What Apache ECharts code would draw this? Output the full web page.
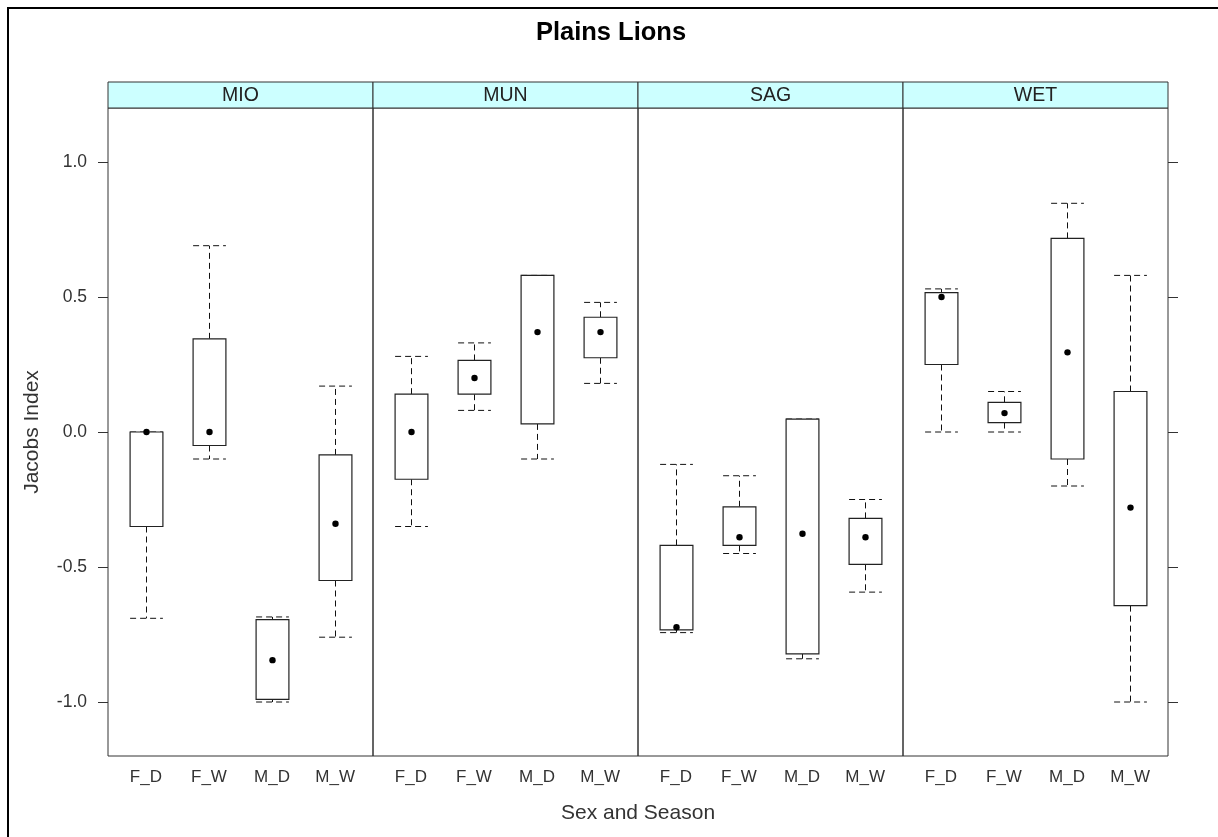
<!DOCTYPE html>
<html><head><meta charset="utf-8">
<script src="https://cdn.jsdelivr.net/npm/echarts@6/dist/echarts.min.js"></script>
<style>html,body{margin:0;padding:0;background:#fff}#c{width:1218px;height:837px}</style>
</head><body><div id="c"></div>
<script>
// ---- data ----
const panels = ['MIO', 'MUN', 'SAG', 'WET'];
const categories = ['F_D', 'F_W', 'M_D', 'M_W'];
const yTicks = [-1.0, -0.5, 0.0, 0.5, 1.0];
// per category: [lower whisker, Q1, median, Q3, upper whisker]
const MIO = [[-0.69, -0.35, 0.00, 0.00, 0.00], [-0.10, -0.05, 0.00, 0.345, 0.69], [-1.00, -0.99, -0.845, -0.695, -0.685], [-0.76, -0.55, -0.34, -0.085, 0.17]];
const MUN = [[-0.35, -0.175, 0.00, 0.14, 0.28], [0.08, 0.14, 0.20, 0.265, 0.33], [-0.10, 0.03, 0.37, 0.58, 0.58], [0.18, 0.275, 0.37, 0.425, 0.48]];
const SAG = [[-0.743, -0.733, -0.723, -0.42, -0.12], [-0.45, -0.42, -0.39, -0.277, -0.162], [-0.84, -0.822, -0.377, 0.048, 0.048], [-0.593, -0.49, -0.39, -0.32, -0.25]];
const WET = [[0.00, 0.25, 0.50, 0.516, 0.53], [0.00, 0.035, 0.07, 0.11, 0.15], [-0.20, -0.10, 0.295, 0.717, 0.847], [-1.00, -0.643, -0.28, 0.15, 0.58]];
const panelData = [MIO, MUN, SAG, WET];

// ---- layout ----
const PL = 108, PT = 108, PW = 265, PH = 648, STRIP_H = 26;
const FONT = '"Liberation Sans", Arial, sans-serif';
const BOX_W = 0.52;

function renderBox(params, api) {
  const x = api.value(0);
  const lo = api.coord([x, api.value(1)]);
  const q1 = api.coord([x, api.value(2)]);
  const med = api.coord([x, api.value(3)]);
  const q3 = api.coord([x, api.value(4)]);
  const hi = api.coord([x, api.value(5)]);
  const bw = api.size([BOX_W, 0])[0];
  const cx = Math.round(lo[0]) + 0.5;
  const L = cx - bw / 2, R = cx + bw / 2;
  const dashed = { stroke: '#111', lineWidth: 1, lineDash: [6, 4], fill: null };
  return {
    type: 'group',
    children: [
      { type: 'line', shape: { x1: cx, y1: q3[1], x2: cx, y2: hi[1] }, style: dashed },
      { type: 'line', shape: { x1: cx, y1: q1[1], x2: cx, y2: lo[1] }, style: dashed },
      { type: 'line', shape: { x1: L, y1: hi[1], x2: R, y2: hi[1] }, style: dashed },
      { type: 'line', shape: { x1: L, y1: lo[1], x2: R, y2: lo[1] }, style: dashed },
      { type: 'rect', shape: { x: L, y: q3[1], width: bw, height: q1[1] - q3[1] }, style: { fill: '#fff', stroke: '#222', lineWidth: 1.2 } },
      { type: 'circle', shape: { cx: cx, cy: med[1], r: 3.2 }, style: { fill: '#000' } }
    ]
  };
}

const grids = [], xAxes = [], yAxes = [], series = [], graphics = [];
panels.forEach((p, i) => {
  grids.push({ left: PL + i * PW, top: PT, width: PW, height: PH, show: true, borderColor: '#333', borderWidth: 1, backgroundColor: 'transparent' });
  xAxes.push({
    gridIndex: i, type: 'value', min: 0.4, max: 4.6,
    axisLine: { show: false }, axisTick: { show: false }, splitLine: { show: false },
    axisLabel: { customValues: [1, 2, 3, 4], formatter: v => categories[Math.round(v) - 1], fontSize: 17, color: '#333', margin: 13, fontFamily: FONT }
  });
  yAxes.push({
    gridIndex: i, type: 'value', min: -1.2, max: 1.2, position: i === 3 ? 'right' : 'left',
    axisLine: { show: false }, splitLine: { show: false },
    axisTick: { show: i === 0 || i === 3, customValues: yTicks, length: 10, lineStyle: { color: '#333' } },
    axisLabel: { show: i === 0, customValues: yTicks, formatter: v => v.toFixed(1), fontSize: 17.5, color: '#333', margin: 21, fontFamily: FONT },
    name: i === 0 ? 'Jacobs Index' : '', nameLocation: 'middle', nameGap: 65,
    nameTextStyle: { fontSize: 21, color: '#333', fontFamily: FONT }
  });
  series.push({
    type: 'custom', xAxisIndex: i, yAxisIndex: i, renderItem: renderBox,
    encode: { x: 0, y: [1, 2, 3, 4, 5] },
    data: panelData[i].map((d, k) => [k + 1].concat(d)),
    z: 3
  });
  graphics.push({
    type: 'rect', shape: { x: PL + i * PW, y: PT - STRIP_H, width: PW, height: STRIP_H },
    style: { fill: '#ccffff', stroke: '#333', lineWidth: 1 }
  });
  graphics.push({
    type: 'text', x: PL + i * PW + PW / 2, y: PT - STRIP_H / 2 + 1,
    style: { text: p, textAlign: 'center', textVerticalAlign: 'middle', font: '19.5px ' + FONT, fill: '#222' }
  });
});

graphics.push({ type: 'rect', shape: { x: 8, y: 8, width: 1400, height: 1000 }, style: { fill: null, stroke: '#000', lineWidth: 2 } });
graphics.push({ type: 'text', x: 611, y: 33, style: { text: 'Plains Lions', textAlign: 'center', textVerticalAlign: 'middle', font: 'bold 25.5px ' + FONT, fill: '#000' } });
graphics.push({ type: 'text', x: PL + 2 * PW, y: 813, style: { text: 'Sex and Season', textAlign: 'center', textVerticalAlign: 'middle', font: '21px ' + FONT, fill: '#333' } });

const chart = echarts.init(document.getElementById('c'), null, { renderer: 'canvas' });
chart.setOption({
  animation: false,
  backgroundColor: '#fff',
  grid: grids, xAxis: xAxes, yAxis: yAxes, series: series, graphic: graphics
});
</script></body></html>
